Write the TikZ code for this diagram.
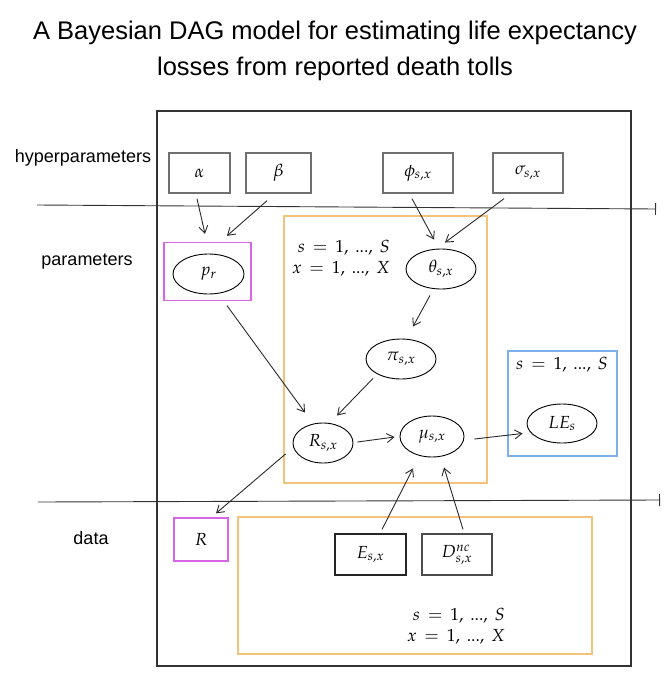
\documentclass[tikz,border=0pt]{standalone}
\usepackage{mathpazo}
\usepackage[no-math]{fontspec}
\setmainfont{Liberation Sans}
\usetikzlibrary{arrows.meta,shapes.geometric}
\definecolor{hyp}{HTML}{707070}
\definecolor{mag}{HTML}{D966E8}
\definecolor{org}{HTML}{F5C27A}
\definecolor{blu}{HTML}{7EB0EE}
\definecolor{arr}{HTML}{2A2A2A}
\newcommand{\rgap}{\mkern8mu}
\newcommand{\cgap}{\mkern4mu}
\newcommand{\rng}[2]{#1\rgap{=}\rgap 1,\cgap{.}{.}{.},\cgap #2}
\tikzset{
  hbox/.style={draw=hyp, line width=1.4pt, rectangle, inner sep=0pt, font=\fontsize{17.5}{20}\selectfont},
  dbox/.style={draw=black!85, line width=1.2pt, rectangle, inner sep=0pt, font=\fontsize{17.5}{20}\selectfont},
  mbox/.style={draw=mag, line width=1.3pt, rectangle, inner sep=0pt, font=\fontsize{17.5}{20}\selectfont},
  var/.style={draw=black, line width=0.9pt, ellipse, inner sep=0pt, minimum width=70pt, minimum height=40pt, font=\fontsize{17.5}{20}\selectfont},
  conn/.style={draw=arr, line width=0.9pt, -{Straight Barb[length=7pt,width=9pt]}},
  lvl/.style={draw=black!80, line width=0.9pt, -{Bar[width=12pt]}},
  sidelab/.style={font=\fontsize{18}{21}\selectfont},
  ttl/.style={font=\fontsize{25.5}{30}\selectfont},
  platetxt/.style={font=\fontsize{17.5}{21}\selectfont, inner sep=0pt, align=right},
}
\begin{document}
\begin{tikzpicture}[x=1pt,y=-1pt]
\useasboundingbox (0,0) rectangle (667,696);
% title
\node[ttl] (t1) at (335,33) {A Bayesian DAG model for estimating life expectancy};
\node[ttl] (t2) at (335,69) {losses from reported death tolls};
% outer frame and plates
\draw[black!80, line width=1.2pt] (157,111) rectangle (631,666);
\draw[org, line width=1.3pt] (284,216) rectangle (487,483);
\draw[org, line width=1.3pt] (238,517) rectangle (592,654);
\draw[blu, line width=1.3pt] (508,351) rectangle (617,456);
% level lines
\coordinate (l1a) at (37,205);
\coordinate (l1b) at (656,209);
\coordinate (l2a) at (38,502);
\coordinate (l2b) at (660,500);
\draw[lvl] (l1a) -- (l1b);
\draw[lvl] (l2a) -- (l2b);
% side labels
\node[sidelab] (hyl) at (83,158) {hyperparameters};
\node[sidelab] (pal) at (87,262) {parameters};
\node[sidelab] (dal) at (91,538) {data};
% hyperparameters
\node[hbox, minimum width=61pt, minimum height=40pt] (alpha) at (199.5,173) {$\alpha$};
\node[hbox, minimum width=65pt, minimum height=40pt] (beta) at (278.5,173) {$\beta$};
\node[hbox, minimum width=70pt, minimum height=40pt] (phi) at (418,173) {$\phi_{s,x}$};
\node[hbox, minimum width=70pt, minimum height=40pt] (sigma) at (528,173) {$\sigma_{s,x}$};
% parameters
\node[mbox, minimum width=87pt, minimum height=58pt] (prbox) at (207.5,271.5) {};
\node[var, minimum width=71pt] (pr) at (208.5,274) {$p_r$};
\node[var] (theta) at (441,269) {$\theta_{s,x}$};
\node[var] (pi) at (401,359) {$\pi_{s,x}$};
\node[var, minimum width=60pt] (R) at (323,443) {$R_{s,x}$};
\node[var, minimum width=64pt, minimum height=41pt] (mu) at (432,436.5) {$\mu_{s,x}$};
\node[var, minimum height=39pt] (LE) at (562,423.5) {$LE_s$};
% data
\node[mbox, minimum width=54pt, minimum height=43pt] (Rbox) at (201,539.5) {$R$};
\node[dbox, minimum width=71pt, minimum height=41pt] (E) at (370.5,554.5) {$E_{s,x}$};
\node[dbox, draw=black!70, minimum width=70pt, minimum height=41pt] (D) at (457,554.5) {$D^{nc}_{s,x}$};
% plate texts
\node[platetxt, anchor=east] (p1) at (390,258) {$\rng{s}{S}$\\$\rng{x}{X}$};
\node[platetxt] (p2) at (562,365) {$\rng{s}{S}$};
\node[platetxt, anchor=east] (p3) at (505,626) {$\rng{s}{S}$\\$\rng{x}{X}$};
% connectors
\draw[conn] ([shift={(-2.5,5)}]alpha.south) -- ([shift={(-2.5,-8)}]prbox.north);
\draw[conn] ([shift={(-11.5,7)}]beta.south) -- ([shift={(19.5,-6)}]prbox.north);
\draw[conn] ([shift={(-6,5)}]phi.south) -- ([shift={(-7,-9)}]theta.north);
\draw[conn] ([shift={(-24,5)}]sigma.south) -- ([shift={(4,-6)}]theta.north);
\draw[conn] ([shift={(-11,6)}]theta.south) -- ([shift={(12,-12)}]pi.north);
\draw[conn] ([shift={(19.5,4.5)}]prbox.south) -- ([shift={(-18,-10)}]R.north);
\draw[conn] ([shift={(-28,-1)}]pi.south) -- ([shift={(14,-7)}]R.north);
\draw[conn] ([shift={(4,-1)}]R.east) -- ([shift={(-5,0.5)}]mu.west);
\draw[conn] ([shift={(10,2.5)}]mu.east) -- ([shift={(-4,10)}]LE.west);
\draw[conn] ([shift={(-7,11)}]R.west) -- ([shift={(15,-4)}]Rbox.north);
\draw[conn] ([shift={(11.5,-4)}]E.north) -- ([shift={(-19,11)}]mu.south);
\draw[conn] ([shift={(6,-4)}]D.north) -- ([shift={(12,10)}]mu.south);
\end{tikzpicture}
\end{document}
